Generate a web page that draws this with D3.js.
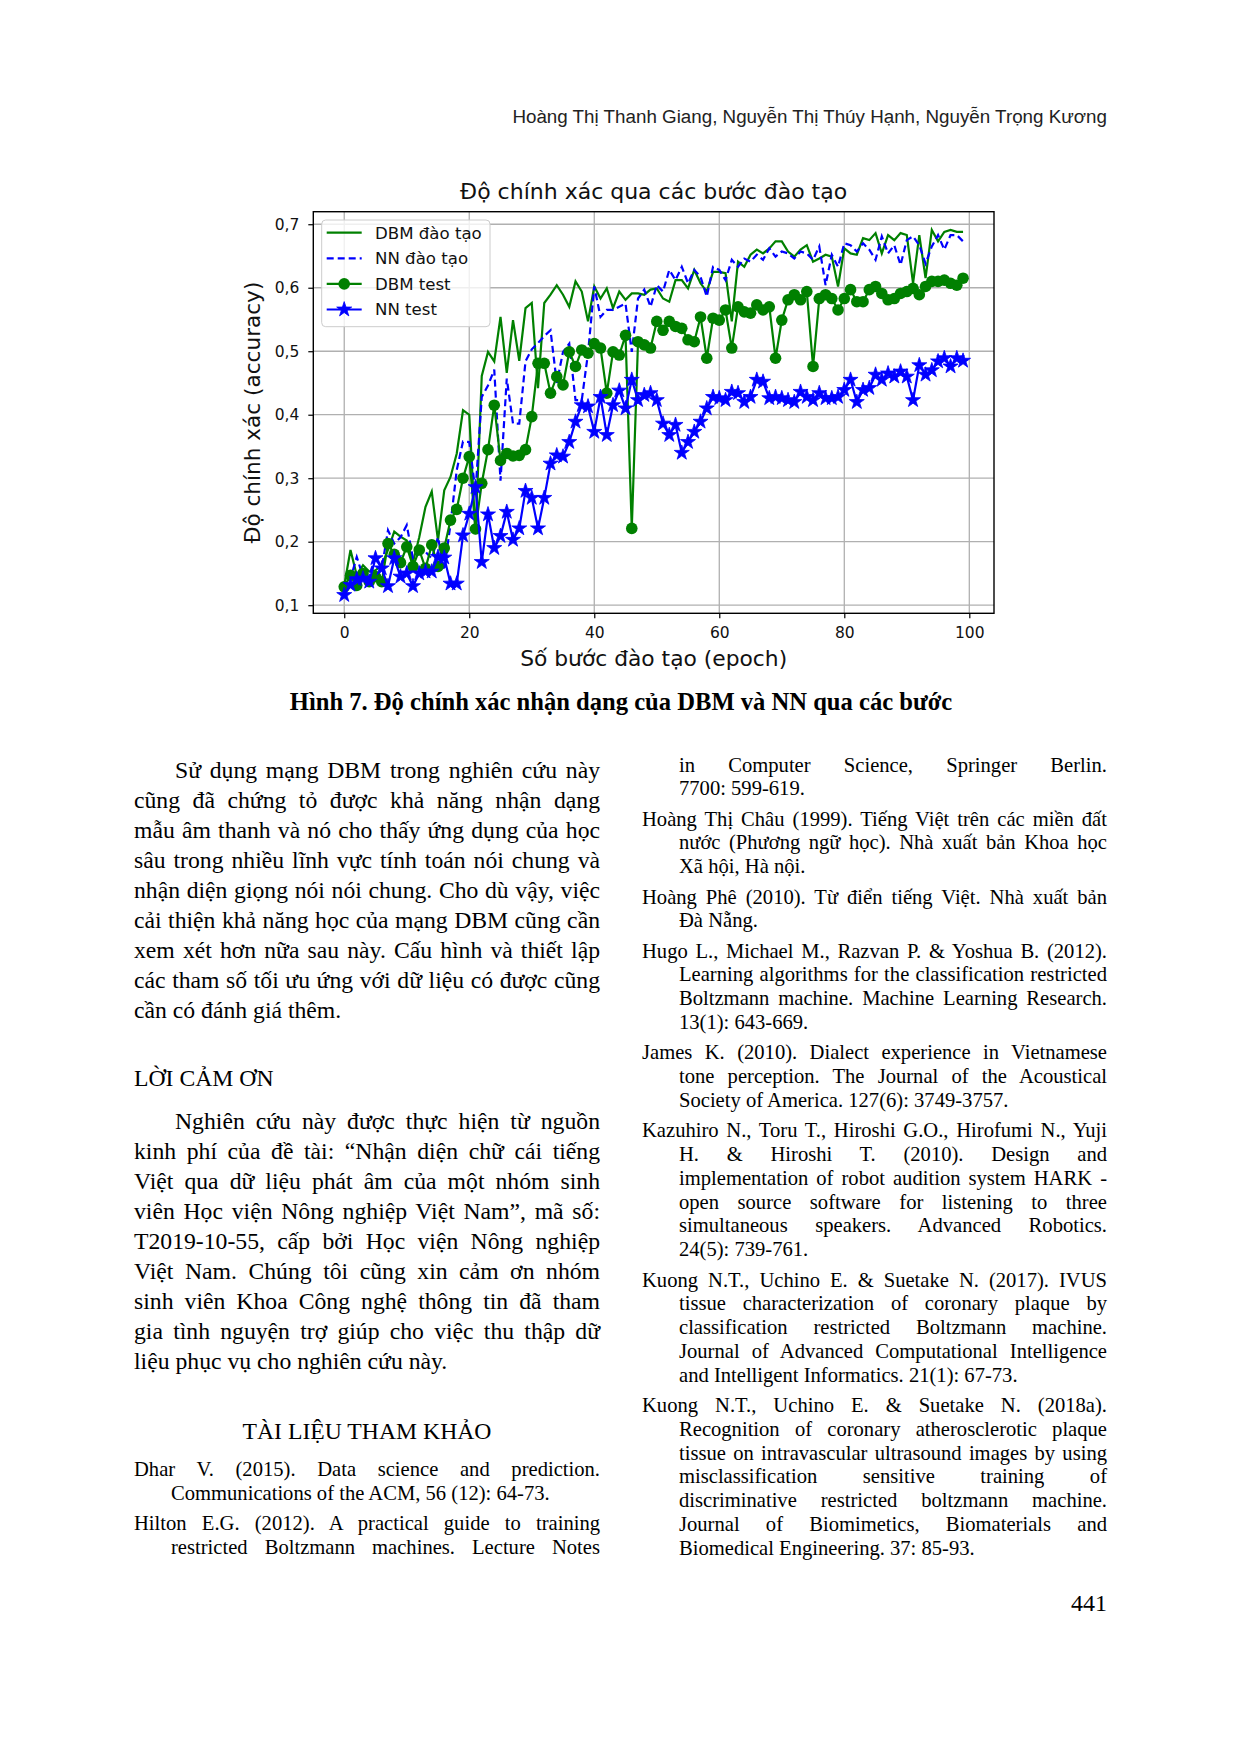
<!DOCTYPE html>
<html>
<head>
<meta charset="utf-8">
<script src="https://cdn.jsdelivr.net/npm/d3@7"></script>
<style>
  body { margin: 0; background: #fff; }
  svg { display: block; }
</style>
</head>
<body>
<div id="page"></div>
<script>
// ---- chart data ----
const epochs = d3.range(100);

const dbmTrain = [
  0.131, 0.187, 0.147, 0.163, 0.153, 0.155, 0.163, 0.187, 0.216, 0.208,
  0.202, 0.168, 0.207, 0.255, 0.279, 0.202, 0.281, 0.302, 0.339, 0.407,
  0.400, 0.212, 0.461, 0.499, 0.484, 0.554, 0.466, 0.549, 0.485, 0.568,
  0.576, 0.442, 0.576, 0.589, 0.604, 0.589, 0.570, 0.610, 0.594, 0.547,
  0.602, 0.583, 0.599, 0.568, 0.594, 0.581, 0.591, 0.591, 0.589, 0.597,
  0.599, 0.583, 0.578, 0.612, 0.612, 0.599, 0.628, 0.607, 0.594, 0.625,
  0.625, 0.623, 0.547, 0.641, 0.633, 0.652, 0.660, 0.654, 0.662, 0.673,
  0.673, 0.657, 0.649, 0.660, 0.667, 0.641, 0.646, 0.652, 0.649, 0.602,
  0.662, 0.654, 0.652, 0.678, 0.675, 0.686, 0.654, 0.683, 0.675, 0.686,
  0.683, 0.607, 0.683, 0.615, 0.691, 0.673, 0.688, 0.691, 0.688, 0.688
];

const nnTrain = [
  0.123, 0.142, 0.176, 0.145, 0.147, 0.176, 0.158, 0.218, 0.197, 0.207,
  0.226, 0.174, 0.181, 0.184, 0.174, 0.207, 0.155, 0.228, 0.313, 0.358,
  0.357, 0.279, 0.428, 0.446, 0.471, 0.296, 0.457, 0.386, 0.386, 0.484,
  0.503, 0.513, 0.524, 0.533, 0.450, 0.499, 0.512, 0.423, 0.423, 0.497,
  0.602, 0.554, 0.565, 0.565, 0.570, 0.575, 0.499, 0.583, 0.597, 0.570,
  0.604, 0.594, 0.628, 0.612, 0.633, 0.607, 0.628, 0.617, 0.586, 0.633,
  0.628, 0.612, 0.644, 0.633, 0.646, 0.641, 0.652, 0.644, 0.662, 0.649,
  0.657, 0.654, 0.646, 0.657, 0.654, 0.644, 0.665, 0.604, 0.652, 0.633,
  0.670, 0.667, 0.657, 0.670, 0.660, 0.644, 0.681, 0.654, 0.667, 0.636,
  0.675, 0.681, 0.667, 0.638, 0.665, 0.683, 0.660, 0.683, 0.683, 0.673
];

const dbmTest = [
  0.129, 0.147, 0.131, 0.150, 0.137, 0.145, 0.137, 0.197, 0.180, 0.167,
  0.192, 0.161, 0.187, 0.158, 0.195, 0.161, 0.190, 0.234, 0.251, 0.300,
  0.334, 0.220, 0.292, 0.345, 0.415, 0.328, 0.339, 0.335, 0.336, 0.345,
  0.397, 0.481, 0.481, 0.434, 0.460, 0.447, 0.499, 0.476, 0.502, 0.497,
  0.512, 0.505, 0.434, 0.499, 0.494, 0.525, 0.221, 0.515, 0.510, 0.505,
  0.547, 0.533, 0.547, 0.539, 0.536, 0.518, 0.515, 0.554, 0.489, 0.552,
  0.549, 0.565, 0.505, 0.570, 0.562, 0.560, 0.573, 0.565, 0.570, 0.489,
  0.549, 0.581, 0.589, 0.581, 0.594, 0.476, 0.583, 0.589, 0.583, 0.565,
  0.583, 0.597, 0.578, 0.578, 0.597, 0.602, 0.591, 0.581, 0.583, 0.591,
  0.594, 0.599, 0.589, 0.602, 0.610, 0.610, 0.612, 0.607, 0.604, 0.615
];

const nnTest = [
  0.116, 0.132, 0.141, 0.142, 0.137, 0.174, 0.158, 0.130, 0.174, 0.145,
  0.150, 0.130, 0.150, 0.153, 0.153, 0.176, 0.175, 0.134, 0.134, 0.210,
  0.244, 0.286, 0.168, 0.243, 0.190, 0.209, 0.247, 0.203, 0.221, 0.280,
  0.269, 0.221, 0.269, 0.323, 0.336, 0.334, 0.357, 0.389, 0.415, 0.413,
  0.373, 0.428, 0.368, 0.415, 0.438, 0.410, 0.455, 0.423, 0.431, 0.434,
  0.423, 0.386, 0.368, 0.384, 0.340, 0.357, 0.373, 0.389, 0.410, 0.428,
  0.426, 0.423, 0.436, 0.434, 0.420, 0.428, 0.455, 0.452, 0.426, 0.428,
  0.426, 0.423, 0.420, 0.436, 0.428, 0.423, 0.434, 0.426, 0.426, 0.428,
  0.439, 0.455, 0.420, 0.439, 0.442, 0.463, 0.455, 0.465, 0.460, 0.468,
  0.460, 0.423, 0.478, 0.463, 0.470, 0.484, 0.489, 0.476, 0.489, 0.485
];

const seriesNames = ["DBM đào tạo", "NN đào tạo", "DBM test", "NN test"];
const xTicks = [0, 20, 40, 60, 80, 100];
const yTicks = [0.1, 0.2, 0.3, 0.4, 0.5, 0.6, 0.7];

// ---- page text ----
const headerText = "Hoàng Thị Thanh Giang, Nguyễn Thị Thúy Hạnh, Nguyễn Trọng Kương";
const chartTitle = "Độ chính xác qua các bước đào tạo";
const xLabel = "Số bước đào tạo (epoch)";
const yLabel = "Độ chính xác (accuracy)";
const caption = "Hình 7. Độ chính xác nhận dạng của DBM và NN qua các bước";

const para1 = [
  "Sử dụng mạng DBM trong nghiên cứu này",
  "cũng đã chứng tỏ được khả năng nhận dạng",
  "mẫu âm thanh và nó cho thấy ứng dụng của học",
  "sâu trong nhiều lĩnh vực tính toán nói chung và",
  "nhận diện giọng nói nói chung. Cho dù vậy, việc",
  "cải thiện khả năng học của mạng DBM cũng cần",
  "xem xét hơn nữa sau này. Cấu hình và thiết lập",
  "các tham số tối ưu ứng với dữ liệu có được cũng",
  "cần có đánh giá thêm."
];
const heading1 = "LỜI CẢM ƠN";
const para2 = [
  "Nghiên cứu này được thực hiện từ nguồn",
  "kinh phí của đề tài: “Nhận diện chữ cái tiếng",
  "Việt qua dữ liệu phát âm của một nhóm sinh",
  "viên Học viện Nông nghiệp Việt Nam”, mã số:",
  "T2019-10-55, cấp bởi Học viện Nông nghiệp",
  "Việt Nam. Chúng tôi cũng xin cảm ơn nhóm",
  "sinh viên Khoa Công nghệ thông tin đã tham",
  "gia tình nguyện trợ giúp cho việc thu thập dữ",
  "liệu phục vụ cho nghiên cứu này."
];
const heading2 = "TÀI LIỆU THAM KHẢO";
const refsLeft = [
  { lines: ["Dhar V. (2015). Data science and prediction.",
            "Communications of the ACM, 56 (12): 64-73."] },
  { lines: ["Hilton E.G. (2012). A practical guide to training",
            "restricted Boltzmann machines. Lecture Notes"], open: true }
];
const refsRight = [
  { lines: ["in Computer Science, Springer Berlin.", "7700: 599-619."], cont: true },
  { lines: ["Hoàng Thị Châu (1999). Tiếng Việt trên các miền đất",
            "nước (Phương ngữ học). Nhà xuất bản Khoa học",
            "Xã hội, Hà nội."] },
  { lines: ["Hoàng Phê (2010). Từ điển tiếng Việt. Nhà xuất bản",
            "Đà Nẵng."] },
  { lines: ["Hugo L., Michael M., Razvan P. & Yoshua B. (2012).",
            "Learning algorithms for the classification restricted",
            "Boltzmann machine. Machine Learning Research.",
            "13(1): 643-669."] },
  { lines: ["James K. (2010). Dialect experience in Vietnamese",
            "tone perception. The Journal of the Acoustical",
            "Society of America. 127(6): 3749-3757."] },
  { lines: ["Kazuhiro N., Toru T., Hiroshi G.O., Hirofumi N., Yuji",
            "H. & Hiroshi T. (2010). Design and",
            "implementation of robot audition system HARK -",
            "open source software for listening to three",
            "simultaneous speakers. Advanced Robotics.",
            "24(5): 739-761."] },
  { lines: ["Kuong N.T., Uchino E. & Suetake N. (2017). IVUS",
            "tissue characterization of coronary plaque by",
            "classification restricted Boltzmann machine.",
            "Journal of Advanced Computational Intelligence",
            "and Intelligent Informatics. 21(1): 67-73."] },
  { lines: ["Kuong N.T., Uchino E. & Suetake N. (2018a).",
            "Recognition of coronary atherosclerotic plaque",
            "tissue on intravascular ultrasound images by using",
            "misclassification sensitive training of",
            "discriminative restricted boltzmann machine.",
            "Journal of Biomimetics, Biomaterials and",
            "Biomedical Engineering. 37: 85-93."] }
];
const pageNumber = "441";

// ---- page ----
const W = 1240, H = 1753;
const svg = d3.select("#page").append("svg").attr("width", W).attr("height", H);
svg.append("rect").attr("width", W).attr("height", H).attr("fill", "#fff");

const serif = "'Liberation Serif', 'Times New Roman', serif";
const chartFont = "'DejaVu Sans', sans-serif";

// header
svg.append("text")
  .attr("x", 1107).attr("y", 123)
  .attr("text-anchor", "end")
  .style("font-family", "'Liberation Sans', Arial, sans-serif")
  .style("font-size", "18.8px")
  .style("fill", "#222")
  .text(headerText);

// ---- chart ----
const plot = { left: 313.3, top: 211.7, right: 994, bottom: 613.3 };
const allVals = dbmTrain.concat(nnTrain, dbmTest, nnTest);
const yLo = d3.min(allVals), yHi = d3.max(allVals), yPad = (yHi - yLo) * 0.05;
const xPad = (99 - 0) * 0.05;

const x = d3.scaleLinear([0 - xPad, 99 + xPad], [plot.left, plot.right]);
const y = d3.scaleLinear([yLo - yPad, yHi + yPad], [plot.bottom, plot.top]);

const chart = svg.append("g").attr("class", "chart");

// grid
chart.append("g").selectAll("line").data(xTicks).join("line")
  .attr("x1", d => x(d)).attr("x2", d => x(d))
  .attr("y1", plot.top).attr("y2", plot.bottom)
  .attr("stroke", "#b0b0b0").attr("stroke-width", 1.3);
chart.append("g").selectAll("line").data(yTicks).join("line")
  .attr("y1", d => y(d)).attr("y2", d => y(d))
  .attr("x1", plot.left).attr("x2", plot.right)
  .attr("stroke", "#b0b0b0").attr("stroke-width", 1.3);

// series
const green = "#008000", blue = "#0000ff";
const line = vals => d3.line().x((d, i) => x(epochs[i])).y(d => y(d))(vals);

chart.append("path").attr("d", line(dbmTrain))
  .attr("fill", "none").attr("stroke", green).attr("stroke-width", 2.2);
chart.append("path").attr("d", line(nnTrain))
  .attr("fill", "none").attr("stroke", blue).attr("stroke-width", 2.2)
  .attr("stroke-dasharray", "7,4");
chart.append("path").attr("d", line(dbmTest))
  .attr("fill", "none").attr("stroke", green).attr("stroke-width", 2.2);
chart.append("g").selectAll("circle").data(dbmTest).join("circle")
  .attr("cx", (d, i) => x(epochs[i])).attr("cy", d => y(d))
  .attr("r", 5.8).attr("fill", green);
chart.append("path").attr("d", line(nnTest))
  .attr("fill", "none").attr("stroke", blue).attr("stroke-width", 2.2);
const star = d3.symbol().type(d3.symbolStar).size(70);
chart.append("g").selectAll("path").data(nnTest).join("path")
  .attr("d", star)
  .attr("transform", (d, i) => `translate(${x(epochs[i])},${y(d)})`)
  .attr("fill", blue).attr("stroke", blue).attr("stroke-width", 0.8);

// axes
const fmt = d => d3.format(".1f")(d).replace(".", ",");
const xAxis = chart.append("g")
  .attr("transform", `translate(0,${plot.bottom})`)
  .call(d3.axisBottom(x).tickValues(xTicks).tickSize(5).tickPadding(9));
const yAxis = chart.append("g")
  .attr("transform", `translate(${plot.left},0)`)
  .call(d3.axisLeft(y).tickValues(yTicks).tickSize(5).tickPadding(9).tickFormat(fmt));
[xAxis, yAxis].forEach(a => {
  a.select(".domain").remove();
  a.selectAll("line").attr("stroke", "#000").attr("stroke-width", 1.2);
  a.selectAll("text")
    .style("font-family", chartFont)
    .style("font-size", "15.5px")
    .style("fill", "#111");
});

// frame
chart.append("rect")
  .attr("x", plot.left).attr("y", plot.top)
  .attr("width", plot.right - plot.left).attr("height", plot.bottom - plot.top)
  .attr("fill", "none").attr("stroke", "#000").attr("stroke-width", 1.4);

// titles
chart.append("text")
  .attr("x", (plot.left + plot.right) / 2).attr("y", 199)
  .attr("text-anchor", "middle")
  .style("font-family", chartFont).style("font-size", "22px").style("fill", "#111")
  .text(chartTitle);
chart.append("text")
  .attr("x", (plot.left + plot.right) / 2).attr("y", 666)
  .attr("text-anchor", "middle")
  .style("font-family", chartFont).style("font-size", "21.8px").style("fill", "#111")
  .text(xLabel);
chart.append("text")
  .attr("transform", `translate(260,${(plot.top + plot.bottom) / 2}) rotate(-90)`)
  .attr("text-anchor", "middle")
  .style("font-family", chartFont).style("font-size", "21.6px").style("fill", "#111")
  .text(yLabel);

// legend
const legend = chart.append("g").attr("transform", "translate(321.7,220)");
legend.append("rect")
  .attr("width", 168.3).attr("height", 106.7).attr("rx", 4)
  .attr("fill", "#fff").attr("fill-opacity", 0.8)
  .attr("stroke", "#cccccc").attr("stroke-width", 1);
const legendItems = legend.selectAll("g.item").data(seriesNames).join("g")
  .attr("class", "item")
  .attr("transform", (d, i) => `translate(0,${12.7 + i * 25.6})`);
legendItems.append("line")
  .attr("x1", 5).attr("x2", 40)
  .attr("stroke", (d, i) => (i % 2 === 0 ? green : blue))
  .attr("stroke-width", 2.2)
  .attr("stroke-dasharray", (d, i) => (i === 1 ? "7,4" : null));
legendItems.filter((d, i) => i === 2).append("circle")
  .attr("cx", 22.5).attr("r", 5.8).attr("fill", green);
legendItems.filter((d, i) => i === 3).append("path")
  .attr("d", star).attr("transform", "translate(22.5,0)")
  .attr("fill", blue).attr("stroke", blue).attr("stroke-width", 0.8);
legendItems.append("text")
  .attr("x", 53.3).attr("dy", "0.35em")
  .style("font-family", chartFont).style("font-size", "16.6px").style("fill", "#111")
  .text(d => d);

// ---- body text ----
function textLine(text, xPos, yPos, opts = {}) {
  const t = svg.append("text")
    .attr("x", xPos).attr("y", yPos)
    .style("font-family", opts.font || serif)
    .style("font-size", (opts.size || 23.7) + "px")
    .style("font-weight", opts.weight || "normal")
    .style("fill", "#000")
    .attr("text-anchor", opts.anchor || "start")
    .text(text);
  if (opts.width) {
    const w = t.node().getComputedTextLength();
    const gaps = (text.match(/ /g) || []).length;
    if (gaps) t.style("word-spacing", ((opts.width - w) / gaps) + "px");
  }
  return t;
}

// caption
textLine(caption, 621, 710, { anchor: "middle", weight: "bold", size: 24.6 });

// left column paragraphs
const colL = { x: 134, right: 600 }, colR = { x: 642, right: 1107 };
const indentP = 41, indentRef = 37, lead = 30;
function paragraph(lines, y0) {
  lines.forEach((s, i) => {
    const x0 = colL.x + (i === 0 ? indentP : 0);
    const last = i === lines.length - 1;
    textLine(s, x0, y0 + i * lead, last ? {} : { width: colL.right - x0 });
  });
}
paragraph(para1, 778);
textLine(heading1, colL.x, 1086);
paragraph(para2, 1129);
textLine(heading2, (colL.x + colL.right) / 2, 1439, { anchor: "middle" });

// references
const refLead = 23.8, refGap = 6.5, refSize = 20.6;
function refs(list, col, y0) {
  let yPos = y0;
  list.forEach(r => {
    r.lines.forEach((s, i) => {
      const hang = (i > 0 || r.cont) ? indentRef : 0;
      const x0 = col.x + hang;
      const last = i === r.lines.length - 1 && !r.open;
      textLine(s, x0, yPos, last ? { size: refSize } : { size: refSize, width: col.right - x0 });
      yPos += refLead;
    });
    yPos += refGap;
  });
}
refs(refsLeft, colL, 1476);
refs(refsRight, colR, 771.5);

// page number
textLine(pageNumber, 1107, 1611, { anchor: "end", size: 24 });
</script>
</body>
</html>
